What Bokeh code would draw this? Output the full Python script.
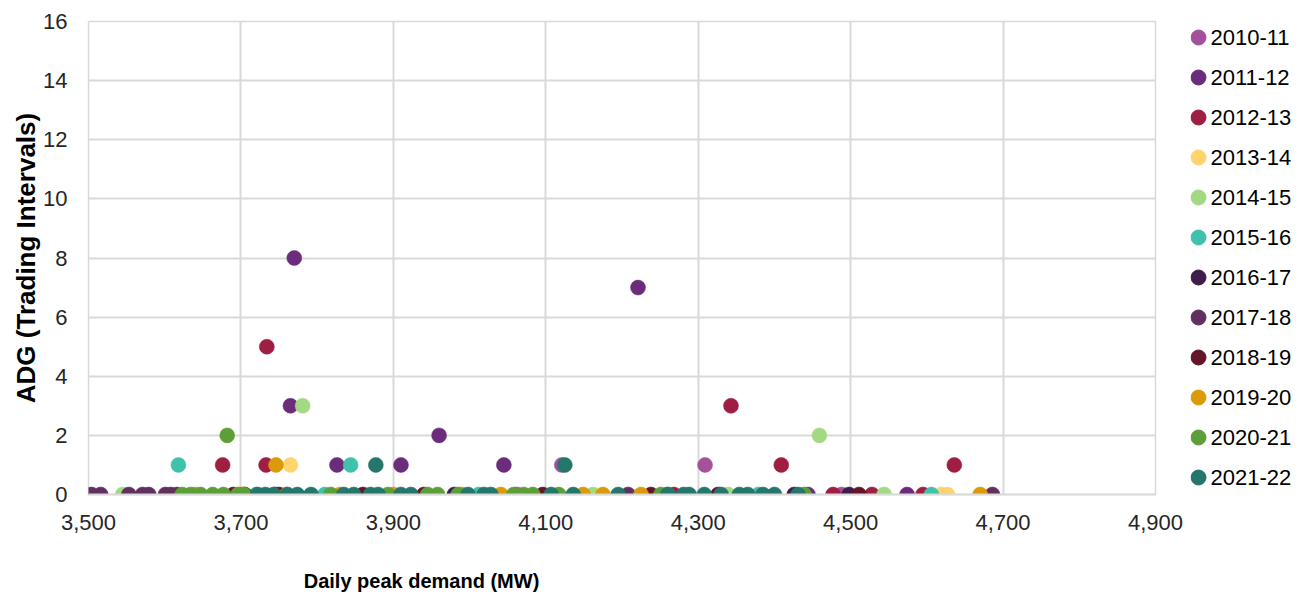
from bokeh.plotting import figure
from bokeh.layouts import row, column
from bokeh.models import ColumnDataSource, NumeralTickFormatter, FixedTicker, Range1d
from bokeh.core.properties import value
from bokeh.embed import file_html
from bokeh.resources import INLINE

FONT = "Liberation Sans"

seasons = ["2010-11", "2011-12", "2012-13", "2013-14", "2014-15", "2015-16",
           "2016-17", "2017-18", "2018-19", "2019-20", "2020-21", "2021-22"]
colors = ["#a3519a", "#6b2d7b", "#9e1f42", "#ffd36e", "#a2d982", "#40c1ac",
          "#3f1d4a", "#62305f", "#65152a", "#db9a0a", "#5c9f38", "#25766b"]

# Daily peak demand (MW) and ADG (trading intervals) per financial year
demand_2010_11 = [4121, 4309, 4488, 4062]
adg_2010_11 = [1, 1, 0, 0]

demand_2011_12 = [3770, 4221, 3765, 3960, 3826, 3910, 4045, 4574, 4444, 3745]
adg_2011_12 = [8, 7, 3, 2, 1, 1, 1, 0, 0, 0]

demand_2012_13 = [3734, 4343, 3676, 3733, 4409, 4636, 4477, 4528, 4595, 4268]
adg_2012_13 = [5, 3, 1, 1, 1, 1, 0, 0, 0, 0]

demand_2013_14 = [3765, 4619, 4627]
adg_2013_14 = [1, 0, 0]

demand_2014_15 = [3781, 4459, 3545, 4162, 4339, 4544]
adg_2014_15 = [3, 2, 0, 0, 0, 0]

demand_2015_16 = [3618, 3844, 4606, 4012, 4379, 3720, 3810, 4260]
adg_2015_16 = [1, 1, 0, 0, 0, 0, 0, 0]

demand_2016_17 = [4498, 4426, 3705, 3980]
adg_2016_17 = [0, 0, 0, 0]

demand_2017_18 = [3504, 3516, 3553, 3571, 3579, 3601, 3608, 4208, 4686, 3616]
adg_2017_18 = [0, 0, 0, 0, 0, 0, 0, 0, 0, 0]

demand_2018_19 = [4511, 4096, 4238, 4326, 3690, 3750, 3860, 3940]
adg_2018_19 = [0, 0, 0, 0, 0, 0, 0, 0]

demand_2019_20 = [3746, 4041, 4149, 4175, 4225, 4670, 3640, 3700, 3760, 3830, 3900, 3990]
adg_2019_20 = [1, 0, 0, 0, 0, 0, 0, 0, 0, 0, 0, 0]

demand_2020_21 = [3682, 3623, 3634, 3647, 3663, 3677, 3696, 3704, 3818, 3893,
                  3945, 3958, 3985, 4058, 4071, 4083, 4117, 4251, 4439]
adg_2020_21 = [2, 0, 0, 0, 0, 0, 0, 0, 0, 0,
               0, 0, 0, 0, 0, 0, 0, 0, 0]

demand_2021_22 = [3877, 4125, 3722, 3732, 3743, 3761, 3774, 3792, 3835, 3848,
                  3870, 3880, 3910, 3923, 3998, 4019, 4028, 4107, 4136, 4195,
                  4260, 4281, 4288, 4308, 4330, 4354, 4365, 4385, 4400, 4431]
adg_2021_22 = [1, 1, 0, 0, 0, 0, 0, 0, 0, 0,
               0, 0, 0, 0, 0, 0, 0, 0, 0, 0,
               0, 0, 0, 0, 0, 0, 0, 0, 0, 0]

series = [
    (demand_2010_11, adg_2010_11), (demand_2011_12, adg_2011_12),
    (demand_2012_13, adg_2012_13), (demand_2013_14, adg_2013_14),
    (demand_2014_15, adg_2014_15), (demand_2015_16, adg_2015_16),
    (demand_2016_17, adg_2016_17), (demand_2017_18, adg_2017_18),
    (demand_2018_19, adg_2018_19), (demand_2019_20, adg_2019_20),
    (demand_2020_21, adg_2020_21), (demand_2021_22, adg_2021_22),
]

x_ticks = [3500, 3700, 3900, 4100, 4300, 4500, 4700, 4900]
y_ticks = [0, 2, 4, 6, 8, 10, 12, 14, 16]
x_title = "Daily peak demand (MW)"
y_title = "ADG (Trading Intervals)"

MARKER = 15
TOP_H = 560        # height of the chart row; the x title strip sits underneath

# ---- main scatter ----
p = figure(width=1190, height=TOP_H, output_backend="svg", toolbar_location=None,
           x_range=Range1d(3500, 4900), y_range=Range1d(0, 16),
           min_border_left=88, min_border_right=35, min_border_top=21,
           min_border_bottom=TOP_H - 494)
p.outline_line_color = "#d9d9d9"
p.outline_line_width = 1.5

for col, (xs, ys) in zip(colors, series):
    src = ColumnDataSource(dict(x=xs, y=ys))
    p.scatter("x", "y", source=src, size=MARKER, fill_color=col, line_color=col,
              line_width=0.5)

for g in (p.xgrid, p.ygrid):
    g.grid_line_color = "#d9d9d9"
    g.grid_line_width = 2

p.xaxis.ticker = FixedTicker(ticks=x_ticks)
p.yaxis.ticker = FixedTicker(ticks=y_ticks)
p.xaxis.formatter = NumeralTickFormatter(format="0,0")

for ax in (p.xaxis[0], p.yaxis[0]):
    ax.major_tick_line_color = None
    ax.minor_tick_line_color = None
    ax.major_label_text_font = FONT
    ax.major_label_text_font_size = "22px"
    ax.major_label_text_color = "#262626"
    ax.axis_label_text_font = FONT
    ax.axis_label_text_font_style = "bold"
    ax.axis_label_text_color = "#000000"

p.xaxis.axis_line_color = "#d9d9d9"
p.xaxis.axis_line_width = 2
p.yaxis.axis_line_color = None
p.xaxis.major_label_standoff = 14
p.yaxis.major_label_standoff = 15
p.yaxis.axis_label = y_title
p.yaxis.axis_label_text_font_size = "26px"
p.yaxis.axis_label_standoff = -1

# ---- legend panel (pixel coordinates, same frame top/bottom as the chart) ----
leg = figure(width=115, height=TOP_H, output_backend="svg", toolbar_location=None,
             x_range=Range1d(0, 115), y_range=Range1d(494, 21),
             x_axis_type=None, y_axis_type=None, min_border_left=0,
             min_border_right=0, min_border_top=21, min_border_bottom=TOP_H - 494)
leg.outline_line_color = None
leg.xgrid.visible = False
leg.ygrid.visible = False

rows_y = [37 + 40 * i for i in range(len(seasons))]
leg_src = ColumnDataSource(dict(x=[8] * len(seasons), tx=[20] * len(seasons),
                                y=rows_y, label=seasons, color=colors))
leg.scatter("x", "y", source=leg_src, size=MARKER, fill_color="color",
            line_color="color")
leg.text("tx", "y", text="label", source=leg_src, text_font=value(FONT),
         text_font_size="22px", text_baseline="middle", text_color="#000000")

# ---- x-axis title strip ----
tfig = figure(width=1305, height=599 - TOP_H, output_backend="svg",
              toolbar_location=None, x_range=Range1d(0, 1305),
              y_range=Range1d(599, TOP_H), x_axis_type=None, y_axis_type=None,
              min_border=0)
tfig.outline_line_color = None
tfig.xgrid.visible = False
tfig.ygrid.visible = False
tfig.text(x=[421], y=[580], text=[x_title], text_font=value(FONT),
          text_font_size="20px", text_font_style="bold", text_align="center",
          text_baseline="middle", text_color="#000000")

layout = column(row(p, leg, spacing=0), tfig, spacing=0)
open("out.html", "w").write(file_html(layout, INLINE))
